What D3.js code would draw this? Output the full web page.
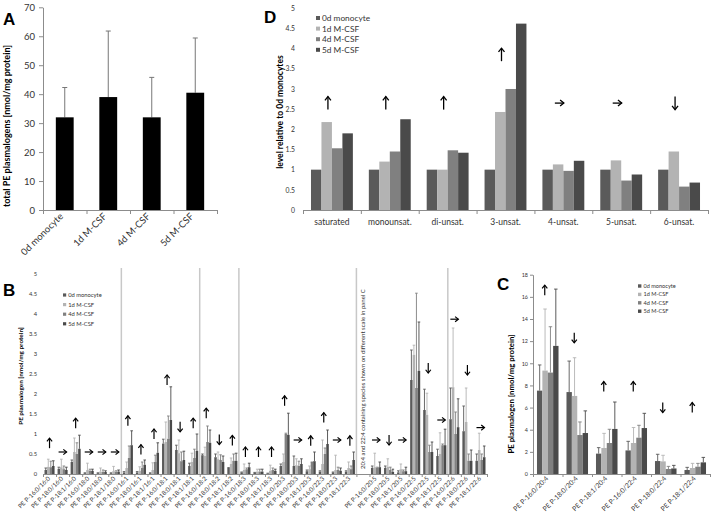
<!DOCTYPE html>
<html><head><meta charset="utf-8">
<script src="https://cdn.jsdelivr.net/npm/d3@7"></script>
<style>body{margin:0;background:#fff} svg{display:block}</style>
</head><body>
<svg id="chart" width="713" height="518"></svg>
<script>
// ---------------- DATA ----------------
const seriesNames = ["0d monocyte", "1d M-CSF", "4d M-CSF", "5d M-CSF"];
const seriesColors = ["#5a5a5a", "#b3b3b3", "#808080", "#4a4a4a"];

// Panel A
const aCategories = ["0d monocyte", "1d M-CSF", "4d M-CSF", "5d M-CSF"];
const aValues = [32, 39, 32, 40.5];
const aErrTop = [42.3, 61.8, 45.8, 59.4];
const aTicks = [0, 10, 20, 30, 40, 50, 60, 70];

// Panel D
const dCategories = ["saturated", "monounsat.", "di-unsat.", "3-unsat.", "4-unsat.", "5-unsat.", "6-unsat."];
const d0d = [1, 1, 1, 1, 1, 1, 1];
const d1d = [2.18, 1.20, 1.00, 2.43, 1.13, 1.23, 1.45];
const d4d = [1.53, 1.45, 1.48, 3.00, 0.97, 0.73, 0.58];
const d5d = [1.90, 2.25, 1.42, 4.62, 1.22, 0.88, 0.68];
const dArrowDir = ["up", "up", "up", "up", "right", "right", "down"];
const dArrowLevel = [2.65, 2.65, 2.65, 3.85, 2.65, 2.65, 2.65];
const dTicks = [0, 0.5, 1, 1.5, 2, 2.5, 3, 3.5, 4, 4.5, 5];

// Panel B (index 24 is the empty slot holding the note)
const bCategories = [
  "PE P-16:0/16:0", "PE P-18:0/16:0", "PE P-18:1/16:0", "PE P-16:0/18:0", "PE P-18:0/18:0", "PE P-18:1/18:0",
  "PE P-16:0/16:1", "PE P-18:0/16:1", "PE P-18:1/16:1", "PE P-16:0/18:1", "PE P-18:0/18:1", "PE P-18:1/18:1",
  "PE P-16:0/18:2", "PE P-18:0/18:2", "PE P-18:1/18:2",
  "PE P-16:0/18:3", "PE P-18:0/18:3", "PE P-18:1/18:3", "PE P-16:0/20:3", "PE P-18:0/20:3", "PE P-18:1/20:3",
  "PE P-16:0/22:3", "PE P-18:0/22:3", "PE P-18:1/22:3",
  "",
  "PE P-16:0/20:5", "PE P-18:0/20:5", "PE P-18:1/20:5", "PE P-16:0/22:5", "PE P-18:0/22:5", "PE P-18:1/22:5",
  "PE P-16:0/22:6", "PE P-18:0/22:6", "PE P-18:1/22:6"
];
const bVal0d = [0.10,0.13,0.30,0.02,0.02,0.02, 0.04,0.04,0.02,0.76,0.60,0.20, 0.47,0.42,0.15, 0.04,0.03,0.01,0.20,0.20,0.07,0.06,0.04,0.06, null, 0.15,0.15,0.04,2.35,1.60,0.45, 1.37,1.07,0.33];
const bVal1d = [0.18,0.17,0.55,0.10,0.06,0.07, 0.15,0.08,0.10,0.80,0.52,0.30, 0.45,0.37,0.25, 0.10,0.06,0.08,0.30,0.22,0.12,0.25,0.10,0.15, null, 0.17,0.18,0.12,2.98,1.48,0.50, 2.17,1.30,0.60];
const bVal4d = [0.17,0.12,0.50,0.08,0.05,0.05, 0.40,0.15,0.30,0.88,0.32,0.40, 0.80,0.35,0.33, 0.12,0.06,0.10,1.00,0.20,0.30,0.50,0.10,0.12, null, 0.15,0.10,0.07,2.15,0.55,0.72, 1.00,0.33,0.35];
const bVal5d = [0.20,0.10,0.63,0.08,0.05,0.06, 0.72,0.23,0.53,1.35,0.35,0.58, 0.78,0.30,0.33, 0.17,0.06,0.08,0.98,0.25,0.32,0.75,0.08,0.35, null, 0.17,0.05,0.07,2.58,0.55,0.72, 1.17,0.33,0.42];
const bTop0d = [0.15,0.17,0.35,0.03,0.03,0.03, 0.06,0.06,0.03,0.87,0.72,0.27, 0.50,0.50,0.16, 0.05,0.04,0.02,0.25,0.45,0.10,0.08,0.05,0.08, null, 0.20,0.20,0.08,3.10,2.12,0.62, 2.15,1.70,0.50];
const bTop1d = [0.37,0.37,0.90,0.27,0.15,0.19, 0.30,0.18,0.28,1.30,0.85,0.52, 0.67,0.55,0.40, 0.25,0.12,0.22,0.50,0.38,0.20,0.85,0.47,0.30, null, 0.52,0.38,0.25,3.22,2.02,1.03, 3.65,2.15,1.02];
const bTop4d = [0.32,0.20,0.78,0.12,0.10,0.08, 0.70,0.30,0.47,1.45,0.55,0.62, 1.20,0.48,0.50, 0.15,0.12,0.15,1.02,0.32,0.30,0.65,0.17,0.20, null, 0.17,0.17,0.10,4.52,0.72,0.75, 1.55,0.50,0.50];
const bTop5d = [0.33,0.17,0.97,0.12,0.08,0.10, 1.08,0.35,0.78,2.18,0.57,1.00, 1.10,0.45,0.52, 0.27,0.12,0.12,1.52,0.38,0.55,1.10,0.15,0.55, null, 0.30,0.12,0.17,3.80,0.80,1.12, 1.88,0.60,0.70];
const bArrowDir = ["up","right","up","right","right","right", "up","up","up","up","down","up", "up","down","up",
  "up","up","up","up","right","up","up","right","up", null, "right","down","right",null,"down","right", "right","down","right"];
const bArrowLevel = [0.77,0.55,1.27,0.55,0.55,0.55, 1.33,0.61,1.0,2.35,1.18,1.27, 1.52,0.86,0.84,
  0.55,0.55,0.55,1.83,0.85,0.83,1.41,0.85,0.83, null, 0.85,0.85,0.85,null,2.65,1.35, 3.87,2.6,1.16];
const bSeparators = [6, 12, 15, 24, 31];
const bNote = "20:4 and 22:4 containing species shown on different scale in panel C";
const bNoteSlot = 24;
const bTicks = [0, 0.5, 1, 1.5, 2, 2.5, 3, 3.5, 4, 4.5, 5];

// Panel C
const cCategories = ["PE P-16:0/20:4", "PE P-18:0/20:4", "PE P-18:1/20:4", "PE P-16:0/22:4", "PE P-18:0/22:4", "PE P-18:1/22:4"];
const cVal0d = [7.53, 7.40, 1.84, 2.13, 1.17, 0.36];
const cVal1d = [9.34, 7.05, 2.35, 2.80, 1.14, 0.54];
const cVal4d = [9.16, 3.52, 2.80, 3.28, 0.45, 0.66];
const cVal5d = [11.57, 3.70, 4.07, 4.15, 0.50, 1.05];
const cTop0d = [9.85, 10.2, 2.38, 2.95, 1.78, 0.60];
const cTop1d = [14.9, 10.5, 3.67, 4.20, 1.69, 0.96];
const cTop4d = [13.3, 4.7, 4.04, 4.40, 0.69, 0.96];
const cTop5d = [16.7, 5.7, 6.5, 5.48, 0.78, 1.5];
const cArrowDir = ["up", "down", "up", "up", "down", "up"];
const cArrowLevel = [16.6, 12.3, 7.9, 7.9, 6.0, 6.0];
const cTicks = [0, 2, 4, 6, 8, 10, 12, 14, 16, 18];

// ---------------- DRAWING ----------------
const FONT = "Lato, 'Liberation Sans', sans-serif";
const LETTER = "'Liberation Sans', Arial, sans-serif";
const svg = d3.select("#chart");
svg.append("rect").attr("width", 713).attr("height", 518).attr("fill", "#fff");

function drawArrow(g, cx, cy, dir, len, head, sw) {
  const h = len / 2, k = head * 1.25;
  let shaft, tip;
  if (dir === "up") { shaft = [[cx, cy + h], [cx, cy - h]]; tip = [[cx - head, cy - h + k], [cx, cy - h], [cx + head, cy - h + k]]; }
  else if (dir === "down") { shaft = [[cx, cy - h], [cx, cy + h]]; tip = [[cx - head, cy + h - k], [cx, cy + h], [cx + head, cy + h - k]]; }
  else { shaft = [[cx - h, cy], [cx + h, cy]]; tip = [[cx + h - k, cy - head], [cx + h, cy], [cx + h - k, cy + head]]; }
  const line = d3.line();
  g.append("path").attr("d", line(shaft)).attr("stroke", "#000").attr("stroke-width", sw).attr("fill", "none");
  g.append("path").attr("d", line(tip)).attr("stroke", "#000").attr("stroke-width", sw).attr("fill", "none");
}

function yAxis(g, y, ticks, xPos, tickLen, pad, fontSize, fmt, showLine) {
  const ax = d3.axisLeft(y).tickValues(ticks).tickSizeInner(tickLen).tickSizeOuter(0).tickPadding(pad).tickFormat(fmt);
  const a = g.append("g").attr("transform", `translate(${xPos},0)`).call(ax);
  a.select(".domain").attr("stroke", showLine ? "#8c8c8c" : "none");
  a.selectAll(".tick line").attr("stroke", showLine ? "#8c8c8c" : "none");
  a.selectAll("text").attr("font-family", FONT).attr("font-size", fontSize).attr("fill", "#333");
  return a;
}

function xAxisLine(g, n, left, right, yPos, tickLen) {
  const xl = d3.scaleLinear().domain([0, n]).range([left, right]);
  const ax = d3.axisBottom(xl).tickValues(d3.range(n + 1)).tickSizeInner(tickLen).tickSizeOuter(0).tickFormat("");
  const a = g.append("g").attr("transform", `translate(0,${yPos})`).call(ax);
  a.select(".domain").attr("stroke", "#8c8c8c");
  a.selectAll(".tick line").attr("stroke", "#8c8c8c");
}

function groupedBars(g, cats, vals, tops, x, y, capW) {
  const xs = d3.scaleBand().domain(d3.range(vals.length)).range([0, x.bandwidth()]);
  vals.forEach((arr, s) => {
    const gs = g.append("g");
    const idx = d3.range(cats.length).filter(i => arr[i] != null);
    gs.selectAll("rect").data(idx).join("rect")
      .attr("x", i => x(i) + xs(s))
      .attr("y", i => y(arr[i]))
      .attr("width", xs.bandwidth())
      .attr("height", i => y(0) - y(arr[i]))
      .attr("fill", seriesColors[s]);
    if (tops) {
      const t = tops[s];
      idx.forEach(i => {
        const cx = x(i) + xs(s) + xs.bandwidth() / 2;
        gs.append("line").attr("x1", cx).attr("x2", cx).attr("y1", y(arr[i])).attr("y2", y(t[i]))
          .attr("stroke", seriesColors[s]).attr("stroke-width", 0.9);
        gs.append("line").attr("x1", cx - capW / 2).attr("x2", cx + capW / 2).attr("y1", y(t[i])).attr("y2", y(t[i]))
          .attr("stroke", seriesColors[s]).attr("stroke-width", 0.9);
      });
    }
  });
}

function legend(g, x0, y0, dy, sq, fontSize) {
  seriesNames.forEach((name, i) => {
    g.append("rect").attr("x", x0).attr("y", y0 + i * dy - sq / 2).attr("width", sq).attr("height", sq).attr("fill", seriesColors[i]);
    g.append("text").attr("x", x0 + sq + 2).attr("y", y0 + i * dy).attr("dy", "0.35em")
      .attr("font-family", FONT).attr("font-size", fontSize).attr("fill", "#333").text(name);
  });
}

function rotLabels(g, cats, x, yPos, dx, fontSize) {
  cats.forEach((c, i) => {
    if (!c) return;
    const cx = x(i) + x.bandwidth() / 2 + dx;
    g.append("text").attr("transform", `translate(${cx},${yPos}) rotate(-45)`)
      .attr("text-anchor", "end").attr("font-family", FONT).attr("font-size", fontSize).attr("fill", "#333").text(c);
  });
}

function yTitle(g, text, x, yc, fontSize) {
  g.append("text").attr("transform", `translate(${x},${yc}) rotate(-90)`).attr("text-anchor", "middle")
    .attr("font-family", FONT).attr("font-weight", "bold").attr("font-size", fontSize).attr("fill", "#000").text(text);
}

function letter(text, x, y) {
  svg.append("text").attr("x", x).attr("y", y).attr("font-family", LETTER).attr("font-weight", "bold")
    .attr("font-size", 17).attr("fill", "#000").text(text);
}

// ===== Panel A =====
{
  const g = svg.append("g");
  const left = 43, right = 217, bottom = 210, top = 7.3;
  const x = d3.scaleBand().domain(d3.range(aCategories.length)).range([left, right]).paddingInner(0.59).paddingOuter(0.295);
  const y = d3.scaleLinear().domain([0, 70]).range([bottom, top]);
  yAxis(g, y, aTicks, left, 4, 4, 9.5, d3.format("d"), true);
  xAxisLine(g, aCategories.length, left, right, bottom, 4);
  aValues.forEach((v, i) => {
    const cx = x(i) + x.bandwidth() / 2;
    g.append("line").attr("x1", cx).attr("x2", cx).attr("y1", y(v)).attr("y2", y(aErrTop[i])).attr("stroke", "#777").attr("stroke-width", 1);
    g.append("line").attr("x1", cx - 2.5).attr("x2", cx + 2.5).attr("y1", y(aErrTop[i])).attr("y2", y(aErrTop[i])).attr("stroke", "#777").attr("stroke-width", 1);
  });
  g.selectAll("rect.a").data(aValues).join("rect").attr("class", "a")
    .attr("x", (d, i) => x(i)).attr("y", d => y(d)).attr("width", x.bandwidth()).attr("height", d => bottom - y(d)).attr("fill", "#000");
  rotLabels(g, aCategories, x, 217, -1, 9.5);
  yTitle(g, "total PE plasmalogens [nmol/mg protein]", 10, 126, 9);
  letter("A", 3, 25);
}

// ===== Panel D =====
{
  const g = svg.append("g");
  const left = 303, right = 708, bottom = 210, top = 8.3;
  const x = d3.scaleBand().domain(d3.range(dCategories.length)).range([left, right]).paddingInner(0.276).paddingOuter(0.138);
  const y = d3.scaleLinear().domain([0, 5]).range([bottom, top]);
  yAxis(g, y, dTicks, left, 0, 8, 6.8, d => String(d), false);
  groupedBars(g, dCategories, [d0d, d1d, d4d, d5d], null, x, y, 0);
  xAxisLine(g, dCategories.length, left, right, bottom, 4);
  dCategories.forEach((c, i) => {
    g.append("text").attr("x", x(i) + x.bandwidth() / 2).attr("y", 224.5).attr("text-anchor", "middle")
      .attr("font-family", FONT).attr("font-size", 8.5).attr("fill", "#333").text(c);
    drawArrow(g, x(i) + x.bandwidth() / 2 - 4, y(dArrowLevel[i]), dArrowDir[i], dArrowDir[i] === "right" ? 9 : 13, 3, 1.3);
  });
  legend(g, 316, 18, 10.6, 4, 8.3);
  yTitle(g, "level relative to 0d monocytes", 283, 112, 8.5);
  letter("D", 264, 23);
}

// ===== Panel B =====
{
  const g = svg.append("g");
  const left = 43, right = 487, bottom = 474, top = 274;
  const x = d3.scaleBand().domain(d3.range(bCategories.length)).range([left, right]).paddingInner(0.23).paddingOuter(0.115);
  const y = d3.scaleLinear().domain([0, 5]).range([bottom, top]);
  const xl = d3.scaleLinear().domain([0, bCategories.length]).range([left, right]);
  bSeparators.forEach(s => {
    g.append("line").attr("x1", xl(s)).attr("x2", xl(s)).attr("y1", 268).attr("y2", bottom).attr("stroke", "#c8c8c8").attr("stroke-width", 1.5);
  });
  yAxis(g, y, bTicks, left, 3, 3, 5.8, d => String(d), false);
  groupedBars(g, bCategories, [bVal0d, bVal1d, bVal4d, bVal5d], [bTop0d, bTop1d, bTop4d, bTop5d], x, y, 2.6);
  xAxisLine(g, bCategories.length, left, right, bottom, 3);
  bCategories.forEach((c, i) => {
    if (bArrowDir[i]) drawArrow(g, x(i) + x.bandwidth() / 2, y(bArrowLevel[i]), bArrowDir[i], bArrowDir[i] === "right" ? 8 : 10, 2.6, 1.2);
  });
  const nx = x(bNoteSlot) + x.bandwidth() / 2 + 2;
  g.append("text").attr("transform", `translate(${nx},469) rotate(-90)`).attr("font-family", FONT).attr("font-size", 6)
    .attr("fill", "#333").text(bNote);
  rotLabels(g, bCategories, x, 479, 1, 6.2);
  legend(g, 63, 295, 9.6, 3.2, 5.8);
  yTitle(g, "PE plasmalogen [nmol/mg protein]", 23, 376, 6.4);
  letter("B", 3, 296);
}

// ===== Panel C =====
{
  const g = svg.append("g");
  const left = 533, right = 710, bottom = 474, top = 274.7;
  const x = d3.scaleBand().domain(d3.range(cCategories.length)).range([left, right]).paddingInner(0.27).paddingOuter(0.135);
  const y = d3.scaleLinear().domain([0, 18]).range([bottom, top]);
  yAxis(g, y, cTicks, left, 3, 2, 5.4, d3.format("d"), true);
  groupedBars(g, cCategories, [cVal0d, cVal1d, cVal4d, cVal5d], [cTop0d, cTop1d, cTop4d, cTop5d], x, y, 3.5);
  xAxisLine(g, cCategories.length, left, right, bottom, 3);
  cCategories.forEach((c, i) => {
    drawArrow(g, x(i) + x.bandwidth() / 2 - 3, y(cArrowLevel[i]), cArrowDir[i], 10, 2.6, 1.2);
  });
  rotLabels(g, cCategories, x, 479, 1, 6.8);
  legend(g, 638, 286, 8.4, 3.4, 5.6);
  yTitle(g, "PE plasmalogen [nmol/mg protein]", 514, 394, 7.8);
  letter("C", 497, 290);
}
</script>
</body></html>
